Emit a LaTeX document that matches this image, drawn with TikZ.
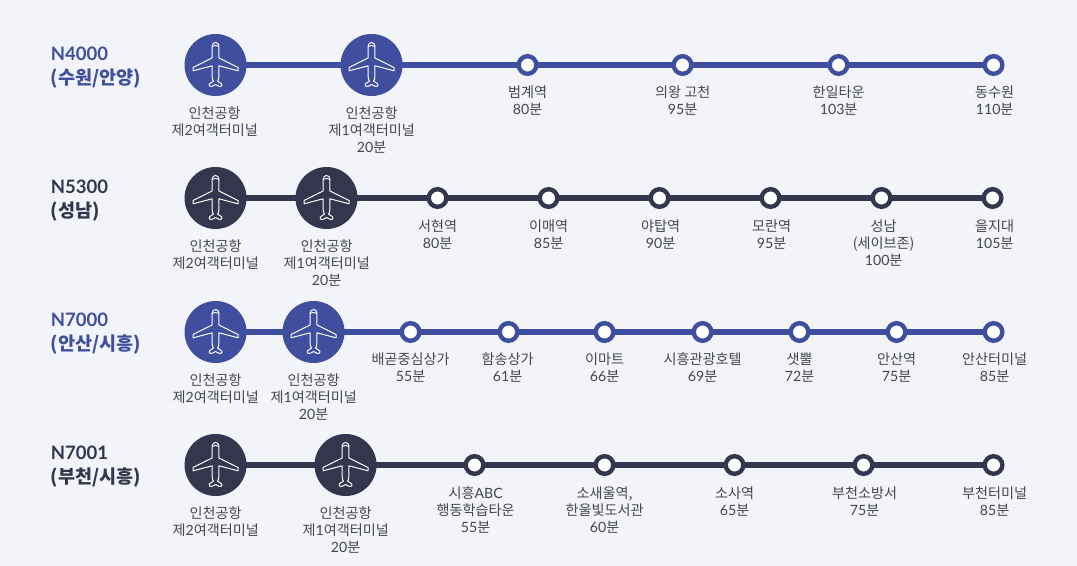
\documentclass[tikz,border=0pt]{standalone}
\usepackage{fontspec}
\setmainfont{Noto Sans CJK KR}
\newfontfamily\lat{Lato}
\newcommand\D[1]{{\lat #1}}
\definecolor{bgc}{HTML}{F3F4F9}
\definecolor{blu}{HTML}{3F4E9E}
\definecolor{drk}{HTML}{33364C}
\definecolor{txt}{HTML}{444650}
\tikzset{
 apt/.style={circle,xshift=0.4pt,minimum size=46.5pt,inner sep=0pt,outer sep=-0.5pt,fill=#1,draw=none},
 stp/.style={circle,xshift=0.4pt,minimum size=13.2pt,inner sep=0pt,outer sep=-1pt,fill=white,draw=#1,line width=3.3pt},
 lbl/.style={anchor=north,xshift=0.5pt,align=center,inner sep=0pt,text=txt,font=\fontsize{10.6}{12.75}\selectfont},
 ttl/.style={anchor=north west,align=left,inner sep=0pt,text=#1,font=\fontsize{13.9}{17.5}\selectfont\bfseries},
 lin/.style={line width=3.8pt,draw=#1},
 plane/.pic={\draw[white,line width=0.75pt,line join=round]
   (0,-22.5) .. controls (1.8,-22.5) and (3.4,-21) .. (3.4,-19)
   -- (3.4,-7) -- (22.5,2.5) -- (22.5,5.8) -- (3.4,0.8) -- (3.4,11.5)
   .. controls (3.4,14) and (2.6,15.5) .. (2,16)
   -- (6.3,19) .. controls (7,20.5) and (6,22) .. (4,21.5)
   .. controls (2.5,21) and (1,20) .. (0,19.5)
   .. controls (-1,20) and (-2.5,21) .. (-4,21.5)
   .. controls (-6,22) and (-7,20.5) .. (-6.3,19)
   -- (-2,16) .. controls (-2.6,15.5) and (-3.4,14) .. (-3.4,11.5)
   -- (-3.4,0.8) -- (-22.5,5.8) -- (-22.5,2.5) -- (-3.4,-7) -- (-3.4,-19)
   .. controls (-3.4,-21) and (-1.8,-22.5) .. (0,-22.5) -- cycle;
   \draw[white,line width=0.7pt] (-3.4,-18.5) .. controls (-1.5,-20) and (1.5,-20) .. (3.4,-18.5);}
}
\begin{document}
\begin{tikzpicture}[x=0.75pt,y=-0.75pt]
\fill[bgc] (0,0) rectangle (1077,566);
\useasboundingbox (0,0) rectangle (1077,566);
% row 1
\node[ttl=blu] (t1) at (50.5,47) {\D{N4000}\\(수원/안양)};
\node[apt=blu] (a1) at (215,65) {};
\node[apt=blu] (b1) at (371,65) {};
\node[stp=blu] (s11) at (527,65) {};
\node[stp=blu] (s12) at (682,65) {};
\node[stp=blu] (s13) at (838,65) {};
\node[stp=blu] (s14) at (993,65) {};
\draw[lin=blu] (a1) -- (b1) -- (s11) -- (s12) -- (s13) -- (s14);
\pic at (a1) {plane}; \pic at (b1) {plane};
\node[lbl] (la1) at (214,106.5) {인천공항\\제\D{2}여객터미널};
\node[lbl] (lb1) at (371,106.5) {인천공항\\제\D{1}여객터미널\\\D{20}분};
\node[lbl] (l11) at (527,85.5) {범계역\\\D{80}분};
\node[lbl] (l12) at (682,85.5) {의왕 고천\\\D{95}분};
\node[lbl] (l13) at (838,85.5) {한일타운\\\D{103}분};
\node[lbl] (l14) at (994,85.5) {동수원\\\D{110}분};
% row 2
\node[ttl=drk] (t2) at (50.5,180) {\D{N5300}\\(성남)};
\node[apt=drk] (a2) at (215,198) {};
\node[apt=drk] (b2) at (326,198) {};
\node[stp=drk] (s21) at (437,198) {};
\node[stp=drk] (s22) at (548,198) {};
\node[stp=drk] (s23) at (659,198) {};
\node[stp=drk] (s24) at (770,198) {};
\node[stp=drk] (s25) at (881,198) {};
\node[stp=drk] (s26) at (992,198) {};
\draw[lin=drk] (a2) -- (b2) -- (s21) -- (s22) -- (s23) -- (s24) -- (s25) -- (s26);
\pic at (a2) {plane}; \pic at (b2) {plane};
\node[lbl] (la2) at (215,239.5) {인천공항\\제\D{2}여객터미널};
\node[lbl] (lb2) at (326,239.5) {인천공항\\제\D{1}여객터미널\\\D{20}분};
\node[lbl] (l21) at (437,219.5) {서현역\\\D{80}분};
\node[lbl] (l22) at (548,219.5) {이매역\\\D{85}분};
\node[lbl] (l23) at (660,219.5) {야탑역\\\D{90}분};
\node[lbl] (l24) at (771,219.5) {모란역\\\D{95}분};
\node[lbl] (l25) at (883,219.5) {성남\\(세이브존)\\\D{100}분};
\node[lbl] (l26) at (994,219.5) {을지대\\\D{105}분};
% row 3
\node[ttl=blu] (t3) at (50.5,313) {\D{N7000}\\(안산/시흥)};
\node[apt=blu] (a3) at (215,332) {};
\node[apt=blu] (b3) at (313,332) {};
\node[stp=blu] (s31) at (410,332) {};
\node[stp=blu] (s32) at (508,332) {};
\node[stp=blu] (s33) at (604,332) {};
\node[stp=blu] (s34) at (702,332) {};
\node[stp=blu] (s35) at (799,332) {};
\node[stp=blu] (s36) at (896,332) {};
\node[stp=blu] (s37) at (993,332) {};
\draw[lin=blu] (a3) -- (b3) -- (s31) -- (s32) -- (s33) -- (s34) -- (s35) -- (s36) -- (s37);
\pic at (a3) {plane}; \pic at (b3) {plane};
\node[lbl] (la3) at (215,373.5) {인천공항\\제\D{2}여객터미널};
\node[lbl] (lb3) at (313,373.5) {인천공항\\제\D{1}여객터미널\\\D{20}분};
\node[lbl] (l31) at (410,352.5) {배곧중심상가\\\D{55}분};
\node[lbl] (l32) at (507,352.5) {함송상가\\\D{61}분};
\node[lbl] (l33) at (604,352.5) {이마트\\\D{66}분};
\node[lbl] (l34) at (702,352.5) {시흥관광호텔\\\D{69}분};
\node[lbl] (l35) at (799,352.5) {샛뿔\\\D{72}분};
\node[lbl] (l36) at (896,352.5) {안산역\\\D{75}분};
\node[lbl] (l37) at (994,352.5) {안산터미널\\\D{85}분};
% row 4
\node[ttl=drk] (t4) at (50.5,446) {\D{N7001}\\(부천/시흥)};
\node[apt=drk] (a4) at (215,465) {};
\node[apt=drk] (b4) at (345,465) {};
\node[stp=drk] (s41) at (474,465) {};
\node[stp=drk] (s42) at (604,465) {};
\node[stp=drk] (s43) at (734,465) {};
\node[stp=drk] (s44) at (863,465) {};
\node[stp=drk] (s45) at (993,465) {};
\draw[lin=drk] (a4) -- (b4) -- (s41) -- (s42) -- (s43) -- (s44) -- (s45);
\pic at (a4) {plane}; \pic at (b4) {plane};
\node[lbl] (la4) at (215,506.5) {인천공항\\제\D{2}여객터미널};
\node[lbl] (lb4) at (345,506.5) {인천공항\\제\D{1}여객터미널\\\D{20}분};
\node[lbl] (l41) at (475,486.5) {시흥\D{ABC}\\행동학습타운\\\D{55}분};
\node[lbl] (l42) at (604,486.5) {소새울역,\\한울빛도서관\\\D{60}분};
\node[lbl] (l43) at (734,486.5) {소사역\\\D{65}분};
\node[lbl] (l44) at (864,486.5) {부천소방서\\\D{75}분};
\node[lbl] (l45) at (994,486.5) {부천터미널\\\D{85}분};
\end{tikzpicture}
\end{document}
